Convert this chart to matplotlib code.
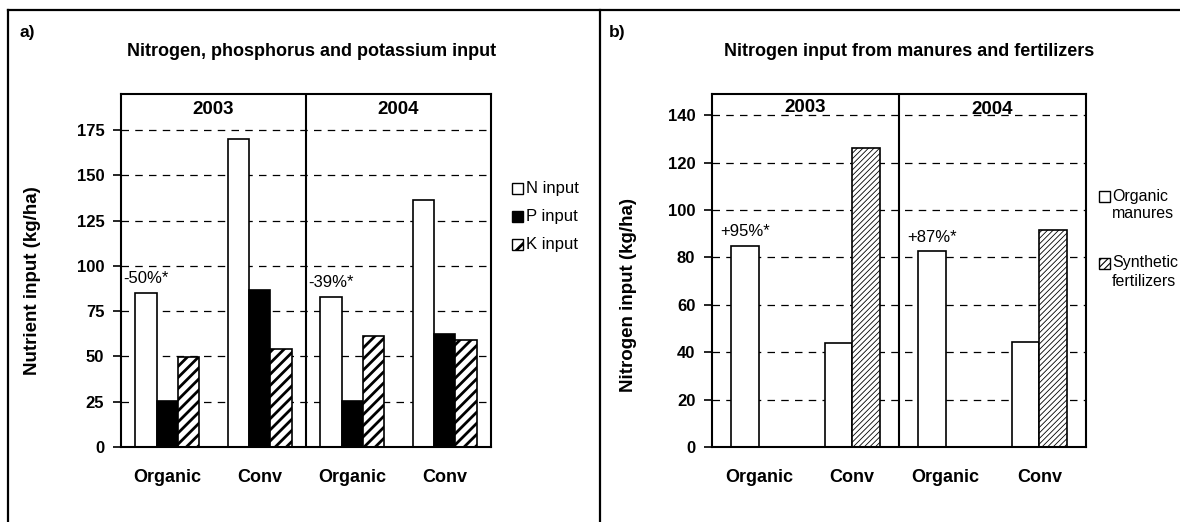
import matplotlib.pyplot as plt
import numpy as np
from matplotlib.lines import Line2D
from matplotlib.patches import Rectangle

plt.rcParams["font.family"] = ["Liberation Sans", "DejaVu Sans"]

categories = ["Organic", "Conv", "Organic", "Conv"]
years = ["2003", "2004"]

# panel a: nutrient input (kg/ha)
n_input = [85.3, 170.3, 82.9, 136.2]
p_input = [25.3, 87.0, 25.3, 62.5]
k_input = [49.6, 54.0, 61.2, 59.1]
a_notes = ["-50%*", "", "-39%*", ""]
a_keys = ["N input", "P input", "K input"]

# panel b: nitrogen input (kg/ha)
organic_manures = [85.0, 44.0, 82.6, 44.5]
synthetic_fert = [0.0, 126.0, 0.0, 91.5]
b_notes = ["+95%*", "", "+87%*", ""]
b_keys = [["Organic", "manures"], ["Synthetic", "fertilizers"]]

W, H = 1180, 522


def px_axes(fig, left, right, top, bottom):
    return fig.add_axes([left / W, 1 - bottom / H, (right - left) / W, (bottom - top) / H])


def style_axes(ax, ymax, step):
    ax.set_xlim(-0.5, 3.5)
    ax.set_ylim(0, ymax)
    ax.set_yticks(np.arange(0, ymax, step))
    ax.set_xticks(range(len(categories)))
    ax.set_xticklabels(categories, fontsize=13, fontweight="bold")
    ax.tick_params(axis="x", length=0, pad=16)
    ax.tick_params(axis="y", length=6, width=1.2, pad=6, labelsize=12)
    for lab in ax.get_yticklabels():
        lab.set_fontweight("bold")
    for s in ax.spines.values():
        s.set_linewidth(1.5)
    ax.yaxis.grid(True, linestyle=(0, (6, 5)), color="black", linewidth=0.9)
    ax.set_axisbelow(True)
    ax.axvline(1.5, color="black", linewidth=1.5)


def key_box(fig, x, y, **kw):
    # small legend square, x/y in pixels (top-left origin), centred on y
    fig.add_artist(Rectangle((x / W, 1 - (y + 5.5) / H), 11 / W, 11 / H,
                             transform=fig.transFigure, edgecolor="black",
                             linewidth=1.0, **kw))


fig = plt.figure(figsize=(11.8, 5.22), dpi=100)

# frame lines around the two panels
fig.add_artist(Line2D([8 / W, 1], [1 - 10 / H, 1 - 10 / H], color="black", linewidth=1.6))
fig.add_artist(Line2D([8 / W, 8 / W], [0, 1 - 10 / H], color="black", linewidth=1.6))
fig.add_artist(Line2D([600 / W, 600 / W], [0, 1 - 10 / H], color="black", linewidth=1.6))

x = np.arange(len(categories))

# ---- panel a
ax1 = px_axes(fig, 121, 491, 94, 447)
w = 0.232
ax1.bar(x - w, n_input, w, color="white", edgecolor="black", linewidth=1.2)
ax1.bar(x, p_input, w, color="black", edgecolor="black", linewidth=1.2)
plt.rcParams["hatch.linewidth"] = 2.0
ax1.bar(x + w, k_input, w, color="white", edgecolor="black", linewidth=1.2, hatch="///")
style_axes(ax1, 195, 25)
for i, t in enumerate(a_notes):
    if t:
        ax1.text(x[i] - w, n_input[i] + 8, t, ha="center", va="center", fontsize=12)
for j, yr in enumerate(years):
    ax1.text(0.5 + 2 * j, 0.955, yr, transform=ax1.get_xaxis_transform(), ha="center",
             va="center", fontsize=13.5, fontweight="bold")
ax1.set_ylabel("Nutrient input (kg/ha)", fontsize=13.5, fontweight="bold")
ax1.yaxis.set_label_coords(-0.215, 0.47)

a_styles = [dict(facecolor="white"), dict(facecolor="black"),
            dict(facecolor="white", hatch="//")]
for j, (lab, st) in enumerate(zip(a_keys, a_styles)):
    yy = 189 + 28 * j
    key_box(fig, 512, yy, **st)
    fig.text(526 / W, 1 - yy / H, lab, fontsize=12, va="center")

fig.text(19 / W, 1 - 33 / H, "a)", fontsize=12.5, fontweight="bold", va="center")
fig.text(312 / W, 1 - 52 / H, "Nitrogen, phosphorus and potassium input", fontsize=13,
         fontweight="bold", ha="center", va="center")

# ---- panel b
ax2 = px_axes(fig, 712, 1086, 94, 447)
w2 = 0.294
ax2.bar(x - w2 / 2, organic_manures, w2, color="white", edgecolor="black", linewidth=1.2)
plt.rcParams["hatch.linewidth"] = 0.6
sb = ax2.bar(x + w2 / 2, synthetic_fert, w2, color="white", edgecolor="black", linewidth=1.2,
             hatch="//////")
for r, v in zip(sb, synthetic_fert):
    if v == 0:
        r.set_visible(False)
style_axes(ax2, 149, 20)
for i, t in enumerate(b_notes):
    if t:
        ax2.text(x[i] - w2 / 2, organic_manures[i] + 6, t, ha="center", va="center", fontsize=12)
ax2.text(0.5, 0.962, years[0], transform=ax2.get_xaxis_transform(), ha="center",
         va="center", fontsize=13.5, fontweight="bold")
ax2.text(2.5, 0.957, years[1], transform=ax2.get_xaxis_transform(), ha="center",
         va="center", fontsize=13.5, fontweight="bold")
ax2.set_ylabel("Nitrogen input (kg/ha)", fontsize=13.5, fontweight="bold")
ax2.yaxis.set_label_coords(-0.2, 0.43)

plt.rcParams["hatch.linewidth"] = 0.8
b_styles = [dict(facecolor="white"), dict(facecolor="white", hatch="/////")]
for j, (lines, st) in enumerate(zip(b_keys, b_styles)):
    yy = 196 + 67 * j
    key_box(fig, 1099, yy, **st)
    fig.text(1112 / W, 1 - yy / H, lines[0], fontsize=11.5, va="center")
    fig.text(1112 / W, 1 - (yy + 18) / H, lines[1], fontsize=11.5, va="center")

fig.text(609 / W, 1 - 33 / H, "b)", fontsize=12.5, fontweight="bold", va="center")
fig.text(909 / W, 1 - 52 / H, "Nitrogen input from manures and fertilizers", fontsize=13,
         fontweight="bold", ha="center", va="center")

fig.savefig("out.png", dpi=100)
